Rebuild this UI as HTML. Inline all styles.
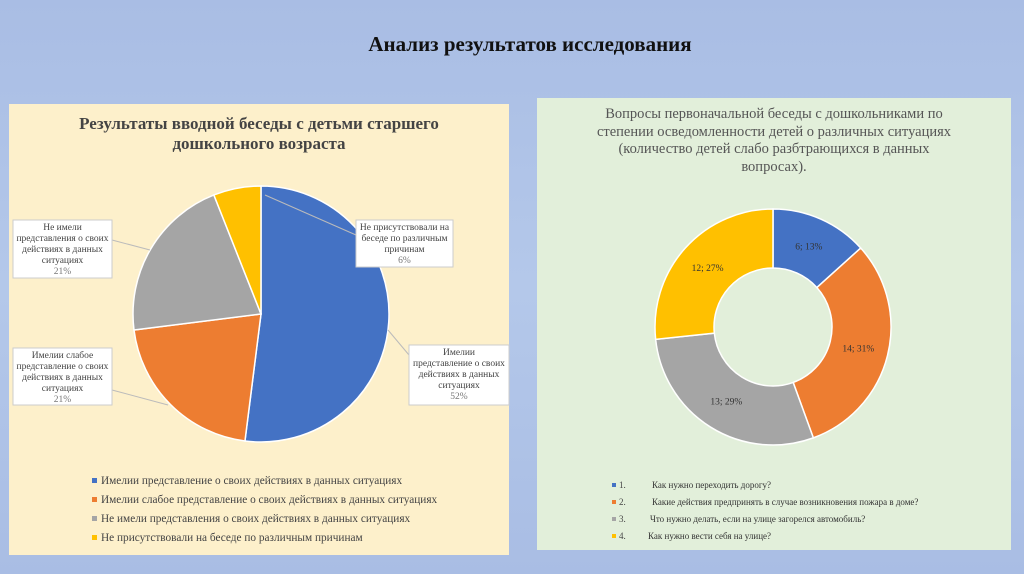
<!DOCTYPE html>
<html><head><meta charset="utf-8"><style>
body{margin:0;width:1024px;height:574px;overflow:hidden;background:linear-gradient(180deg,#a9bde4 0%,#b4c8ea 50%,#a9bde4 100%);font-family:"Liberation Serif",serif;position:relative}
.abs{position:absolute}
</style></head><body>
<div class="abs" style="left:0;width:1060px;top:32px;text-align:center;font-weight:bold;font-size:21px;color:#111">Анализ результатов исследования</div>

<div class="abs" style="left:9px;top:104px;width:500px;height:451px;background:#fdf0cb"></div>
<div class="abs" style="left:9px;width:500px;top:114px;text-align:center;font-weight:bold;font-size:17px;color:#444;line-height:20px">Результаты вводной беседы с детьми старшего<br>дошкольного возраста</div>

<div class="abs" style="left:537px;top:98px;width:474px;height:452px;background:#e2efda"></div>
<div class="abs" style="left:537px;width:474px;top:106px;text-align:center;font-size:14.5px;color:#555;line-height:17.5px">Вопросы первоначальной беседы с дошкольниками по<br>степении осведомленности детей о различных ситуациях<br>(количество детей слабо разбтрающихся в данных<br>вопросах).</div>

<svg class="abs" style="left:0;top:0" width="1024" height="574" id="svg"></svg>

<script>
const pieLabels=["Имелии представление о своих действиях в данных ситуациях","Имелии слабое представление о своих действиях в данных ситуациях","Не имели представления о своих действиях в данных ситуациях","Не присутствовали на беседе по различным причинам"];
const pieValues=[52,21,21,6];
const pieColors=["#4472c4","#ed7d31","#a5a5a5","#ffc000"];
const donutLabels=["Как нужно переходить дорогу?","Какие действия предпринять в случае возникновения пожара в доме?","Что нужно делать, если на улице загорелся автомобиль?","Как нужно вести себя на улице?"];
const donutValues=[6,14,13,12];
const donutPct=["13%","31%","29%","27%"];

const NS="http://www.w3.org/2000/svg";
const svg=document.getElementById('svg');
function el(t,a){const e=document.createElementNS(NS,t);for(const k in a)e.setAttribute(k,a[k]);svg.appendChild(e);return e;}
function pt(cx,cy,r,f){const a=f*2*Math.PI-Math.PI/2;return [cx+r*Math.cos(a),cy+r*Math.sin(a)];}
function arcPath(cx,cy,r,r0,f0,f1){const [x0,y0]=pt(cx,cy,r,f0),[x1,y1]=pt(cx,cy,r,f1);const lg=(f1-f0)>0.5?1:0;
 if(!r0)return `M${cx},${cy}L${x0},${y0}A${r},${r} 0 ${lg} 1 ${x1},${y1}Z`;
 const [a0,b0]=pt(cx,cy,r0,f1),[a1,b1]=pt(cx,cy,r0,f0);
 return `M${x0},${y0}A${r},${r} 0 ${lg} 1 ${x1},${y1}L${a0},${b0}A${r0},${r0} 0 ${lg} 0 ${a1},${b1}Z`;}

let tot=pieValues.reduce((a,b)=>a+b,0),acc=0;
pieValues.forEach((v,i)=>{const f0=acc/tot;acc+=v;const f1=acc/tot;
 const p=el('path',{d:arcPath(261,314,128,0,f0,f1),fill:pieColors[i],stroke:'#fff','stroke-width':1.5});
 
 
});
const leaders=[[409,355,388,330],[112,390,168,405],[112,240,150,250],[356,235,265,195]];
leaders.forEach(l=>{el('line',{x1:l[0],y1:l[1],x2:l[2],y2:l[3],stroke:'#bbb','stroke-width':1});});
const boxes=[[409,345,100,60,["Имелии","представление о своих","действиях в данных","ситуациях"],"52%"],
 [13,348,99,57,["Имелии слабое","представление о своих","действиях в данных","ситуациях"],"21%"],
 [13,220,99,58,["Не имели","представления о своих","действиях в данных","ситуациях"],"21%"],
 [356,220,97,47,["Не присутствовали на","беседе по различным","причинам"],"6%"]];
boxes.forEach((b,i)=>{const r=el('rect',{x:b[0],y:b[1],width:b[2],height:b[3],fill:'#fff',stroke:'#ccc'});
 
 
 const lines=b[4].concat([b[5]]);
 lines.forEach((s,j)=>{const t=el('text',{x:b[0]+b[2]/2,y:b[1]+10+j*11,'text-anchor':'middle','font-size':9.5,fill:j==lines.length-1?'#777':'#444','font-family':'Liberation Serif,serif'});t.textContent=s;});
});
pieLabels.forEach((s,i)=>{const y=484+i*19;
 el('rect',{x:92,y:y-6,width:5,height:5,fill:pieColors[i]});
 const t=el('text',{x:101,y:y,'font-size':11.3,fill:'#444','font-family':'Liberation Serif,serif'});t.textContent=s;
 
 
});

tot=donutValues.reduce((a,b)=>a+b,0);acc=0;
donutValues.forEach((v,i)=>{const f0=acc/tot;acc+=v;const f1=acc/tot;
 const p=el('path',{d:arcPath(773,327,118,59,f0,f1),fill:pieColors[i],stroke:'#fff','stroke-width':1.5});
 
 
 const [lx,ly]=pt(773,327,88,(f0+f1)/2);
 const t=el('text',{x:lx,y:ly+3,'text-anchor':'middle','font-size':9.5,fill:'#333','font-family':'Liberation Serif,serif'});
 t.textContent=donutValues[i]+'; '+donutPct[i];
 
 
});
const lgX=[652,652,650,648];
donutLabels.forEach((s,i)=>{const y=488+i*17;
 el('rect',{x:612,y:y-5,width:4,height:4,fill:pieColors[i]});
 const n=el('text',{x:619,y:y,'font-size':9,fill:'#444','font-family':'Liberation Serif,serif'});n.textContent=(i+1)+'.';
 const t=el('text',{x:lgX[i],y:y,'font-size':9,fill:'#333','font-family':'Liberation Serif,serif'});t.textContent=s;
 
 
});
</script>
</body></html>
